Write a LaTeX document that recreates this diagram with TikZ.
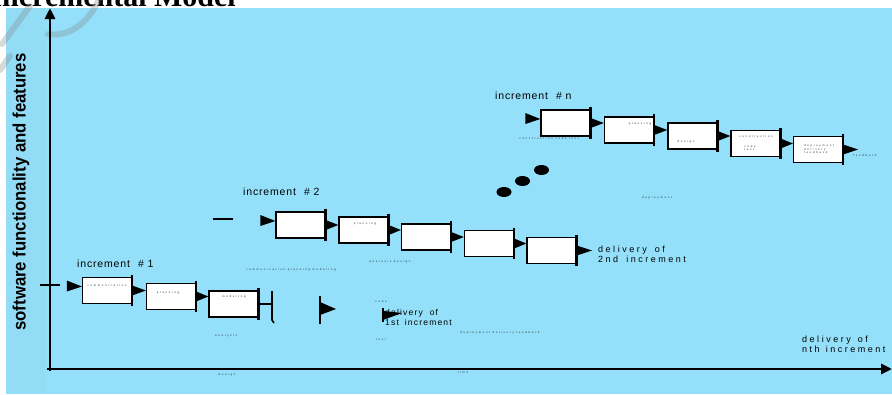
\documentclass[tikz,border=0pt]{standalone}
\usepackage{fontspec}
\setmainfont{Liberation Sans}
\newfontfamily\titlefont{Liberation Serif}
\newfontfamily\ylabfont{Liberation Sans}
\newfontfamily\incfont[LetterSpace=8]{Liberation Sans}
\newfontfamily\spcfont[LetterSpace=28]{Liberation Sans}
\newfontfamily\spcfontb[LetterSpace=14]{Liberation Sans}
\newfontfamily\tinyfont[LetterSpace=60]{Liberation Sans}
\usetikzlibrary{calc,arrows.meta}
\definecolor{skyb}{RGB}{148,224,250}
\definecolor{skyl}{RGB}{147,220,246}
\tikzset{
  box/.style={draw=black, fill=white, line width=1.3pt, minimum width=49pt, minimum height=26pt, inner sep=0pt},
  rbar/.style={line width=2.6pt},
  axisline/.style={line width=2.8pt, -{Triangle[length=11pt,width=10pt]}},
  inclabel/.style={font=\incfont\fontsize{10.5}{12}\selectfont, anchor=base west, inner sep=0pt},
  delivlabel/.style={font=\spcfont\fontsize{9}{10}\selectfont, align=left, anchor=north west, inner sep=0pt},
  delivlabelb/.style={font=\spcfontb\fontsize{8.5}{9.5}\selectfont, align=left, anchor=north west, inner sep=0pt},
  tinylabel/.style={font=\tinyfont\fontsize{2.8}{3.3}\selectfont, inner sep=0pt, text=black!85, align=left},
  dotmark/.style={fill=black},
  wmark/.style={draw=gray, opacity=0.3, line width=6pt, line cap=round}
}
\begin{document}
\begin{tikzpicture}[x=1pt,y=-1pt]
\useasboundingbox (0,0) rectangle (892,394);
\clip (0,0) rectangle (892,394);
% background
\fill[white] (0,0) rectangle (892,394);
\fill[skyb] (6,8) rectangle (892,394);
\fill[skyl] (6,8) rectangle (47,394);
% title (cut at top, as in the reference)
\node[font=\titlefont\bfseries\fontsize{30}{32}\selectfont, anchor=base east, inner sep=0pt] (title) at (236,6) {Incremental Model};
% watermark strokes
\draw[wmark] (2,44) -- (30,6);
\draw[wmark] (48,34) .. controls (70,38) and (92,20) .. (100,-4);
\draw[wmark] (0,70) -- (10,56);
% axes
\coordinate (o) at (50,369);
\coordinate (ytop) at (50,8);
\coordinate (xend) at (892,369);
\draw[axisline] ($(o)+(0,2)$) -- (ytop);
\draw[axisline] ($(o)+(-3,0)$) -- (xend);
\coordinate (tk1) at (40,285);
\coordinate (tk2) at (60,285);
\draw[line width=1.2pt] (tk1) -- (tk2);
\node[rotate=90, font=\ylabfont\bfseries\fontsize{18}{20}\selectfont, inner sep=0pt] (ylab) at (21,192) {\scalebox{0.93}[1]{software functionality and features}};

% increment 1
\node[inclabel] (l1) at (77,267) {increment\hspace{8pt}\# 1};
\node[box] (a1) at (107,290.5) {};
\node[box] (a2) at (171,296.5) {};
\node[box] (a3) at (233.5,304) {};
% increment 2
\node[inclabel] (l2) at (243,195) {increment\hspace{8pt}\# 2};
\node[box] (b1) at (300.5,225) {};
\node[box] (b2) at (363.5,230) {};
\node[box] (b3) at (426,237) {};
\node[box] (b4) at (489,243.5) {};
\node[box] (b5) at (551.5,250.5) {};
% increment n
\node[inclabel] (l3) at (495,99) {increment\hspace{8pt}\# n};
\node[box] (c1) at (565.5,123) {};
\node[box] (c2) at (629,130) {};
\node[box] (c3) at (692.5,136) {};
\node[box] (c4) at (755.5,143.5) {};
\node[box] (c5) at (818,149.5) {};

% links between boxes
\foreach \p/\q in {a1/a2,a2/a3,b1/b2,b2/b3,b3/b4,b4/b5,c1/c2,c2/c3,c3/c4,c4/c5}{
  \draw[rbar] ($(\p.north east)+(0,-2)$) -- ($(\p.south east)+(0,2)$);
  \fill ($(\p.east)+(0,-5)$) -- ($(\p.east)+(0,5)$) -- (\p.east -| \q.west) -- cycle;
}
% entry flags
\foreach \q in {a1,b1,c1}{
  \fill ($(\q.west)+(-15,-10)$) -- ($(\q.west)+(-15,1)$) -- ($(\q.west)+(0,-4)$) -- cycle;
}
% dash before increment 2
\coordinate (d1) at (213,219);
\coordinate (d2) at (233,219);
\draw[line width=1.3pt] (d1) -- (d2);

% end of increment 1
\coordinate (e1) at (272,304);
\draw[rbar] ($(a3.north east)+(0,-2)$) -- ($(a3.south east)+(0,2)$);
\draw[line width=2.6pt] (a3.east) -- (e1);
\draw[line width=1.6pt] ($(e1)+(0,-13)$) -- ($(e1)+(0,16)$) -- ($(e1)+(2,19)$);
% flags at delivery of 1st increment
\node[delivlabelb] (dl1) at (385,309.5) {delivery\hspace{7pt}of\\1st\hspace{6pt}increment};
\coordinate (f1) at (320,296);
\draw[line width=1.8pt] (f1) -- ($(f1)+(0,28)$);
\fill ($(f1)+(0,6)$) -- ($(f1)+(0,19)$) -- ($(f1)+(16,13)$) -- cycle;
\coordinate (f2) at (383,308);
\draw[line width=1.4pt] (f2) -- ($(f2)+(0,14)$);
\fill ($(f2)+(0,3)$) -- ($(f2)+(0,12)$) -- ($(f2)+(19,5)$) -- cycle;

% end of increment 2
\coordinate (e2) at (592,250.5);
\draw[rbar] ($(b5.north east)+(0,-2)$) -- ($(b5.south east)+(0,2)$);
\fill ($(b5.east)+(0,-5)$) -- ($(b5.east)+(0,5)$) -- (e2) -- cycle;
\node[delivlabel] (dl2) at (598,246) {delivery\hspace{8pt}of\\2nd\hspace{8pt}increment};

% end of increment n
\coordinate (e3) at (858,149.5);
\draw[rbar] ($(c5.north east)+(0,-2)$) -- ($(c5.south east)+(0,2)$);
\fill ($(c5.east)+(0,-5)$) -- ($(c5.east)+(0,5)$) -- (e3) -- cycle;
\node[delivlabel] (dl3) at (802,336) {delivery\hspace{7pt}of\\nth\hspace{6pt}increment};

% three dots
\fill[dotmark] (504,192) ellipse (7.5pt and 5pt);
\fill[dotmark] (522.5,181) ellipse (7.5pt and 5pt);
\fill[dotmark] (541.5,170) ellipse (7.5pt and 5pt);

% tiny labels (rendered as dots in the reference)
\node[tinylabel] (t1) at (107,285) {communication};
\node[tinylabel] (t2) at (168,292.5) {planning};
\node[tinylabel] (t3) at (234,297) {modeling};
\node[tinylabel] (t4) at (226,336) {analysis};
\node[tinylabel] (t5) at (227,375) {design};
\node[tinylabel] (t6) at (381,301) {code};
\node[tinylabel] (t7) at (381,340) {test};
\node[tinylabel] (t8) at (500,333) {deployment delivery feedback};
\node[tinylabel] (t9) at (463,372) {time};
\node[tinylabel] (t10) at (291,270) {communication planning modeling};
\node[tinylabel] (t11) at (390,262) {analysis design};
\node[tinylabel] (t12) at (365,224) {planning};
\node[tinylabel] (t13) at (549,138) {construction code test};
\node[tinylabel] (t14) at (657,198) {deployment};
\node[tinylabel] (t15) at (640,124) {planning};
\node[tinylabel] (t16) at (686,142) {design};
\node[tinylabel] (t17) at (756,136) {construction};
\node[tinylabel] (t18) at (750,148) {code\\test};
\node[tinylabel] (t19) at (819,149) {deployment\\delivery\\feedback};
\node[tinylabel] (t20) at (865,155) {feedback};
\end{tikzpicture}
\end{document}
